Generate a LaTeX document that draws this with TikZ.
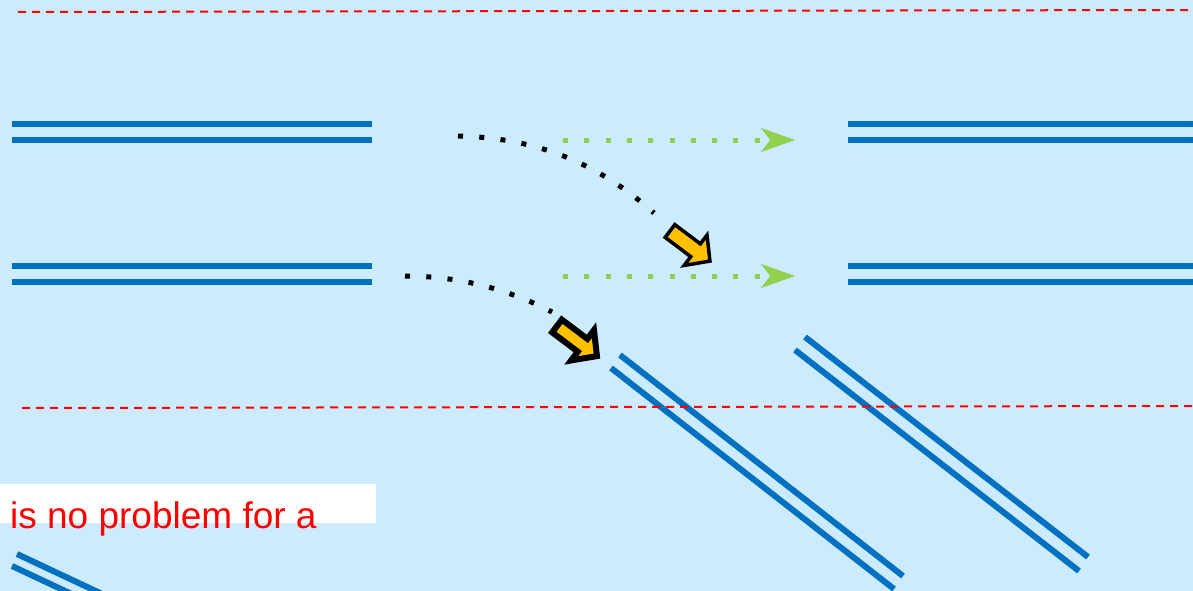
\documentclass[tikz,border=0pt]{standalone}
\usepackage{fontspec}
\setmainfont{Liberation Sans}
\usetikzlibrary{arrows.meta}
\definecolor{sky}{HTML}{CCEBFF}
\definecolor{railblue}{HTML}{0070C0}
\definecolor{leaf}{HTML}{92D050}
\definecolor{amber}{HTML}{FFC000}
\tikzset{
  rail/.style={draw=railblue, line width=6pt, line cap=butt},
  guide/.style={draw=red, line width=2pt, dash pattern=on 8pt off 6pt},
  dotline/.style={line width=5pt, line cap=butt, dash pattern=on 5pt off 16.3pt},
  greenpath/.style={dotline, draw=leaf,
    -{Stealth[length=34pt, width=24pt, inset=9pt, line width=0pt, fill=leaf]}},
  pics/turnarrow/.style={code={
    \draw[fill=amber, line join=miter]
      (0,-8) -- (32,-8) -- (32,-19) -- (50,0) -- (32,19) -- (32,8) -- (0,8) -- cycle;
  }}
}
\begin{document}
\begin{tikzpicture}[x=1pt, y=-1pt]
  \useasboundingbox (0,0) rectangle (1193,591);
  \clip (0,0) rectangle (1193,591);
  \fill[sky] (0,0) rectangle (1193,591);

  % straight tracks, left and right
  \foreach \y in {124,140,266,282} {
    \draw[rail] (12,\y) -- (303,\y);
    \draw[rail] (303,\y) -- (372,\y);
    \draw[rail] (848,\y) -- (1139,\y);
    \draw[rail] (1139,\y) -- (1193,\y);
  }

  % diverging tracks
  \draw[rail] (620,355) -- (903,576);
  \draw[rail] (611,368) -- (894,589);
  \draw[rail] (805,337) -- (1088,557);
  \draw[rail] (795,350) -- (1079,571);

  % track entering at the lower left
  \draw[rail] (17,554) -- ++(120,56.4);
  \draw[rail] (12,566) -- ++(120,56.4);

  % limits
  \draw[guide] (18,12) -- (1193,10);
  \draw[guide] (22,408) -- (1193,406);

  % straight-on routes
  \coordinate (g1s) at (563,140);
  \coordinate (g1e) at (795,140);
  \coordinate (g2s) at (563,276);
  \coordinate (g2e) at (795,276);
  \draw[greenpath] (g1s) -- (g1e);
  \draw[greenpath] (g2s) -- (g2e);

  % turning routes
  \coordinate (c1s) at (458,136);
  \coordinate (c1e) at (654,213);
  \coordinate (c2s) at (405,276);
  \coordinate (c2e) at (552,312);
  \draw[dotline] (c1s) .. controls (540,138) and (600,165) .. (c1e);
  \draw[dotline] (c2s) .. controls (460,276) and (510,290) .. (c2e);

  % direction arrows
  \pic[rotate=-37, line width=3.5pt] at (670,231) {turnarrow};
  \pic[rotate=-37, line width=6pt] at (557,326) {turnarrow};

  % caption strip
  \fill[white] (0,484) rectangle (376,523);
  \node[anchor=base west, inner sep=0pt, text=red,
        font=\fontsize{37}{40}\selectfont] (caption) at (10,528) {is no problem for a};
\end{tikzpicture}
\end{document}
